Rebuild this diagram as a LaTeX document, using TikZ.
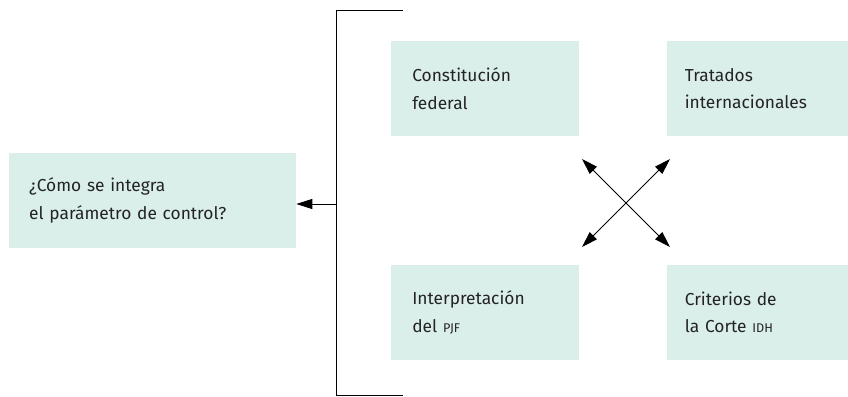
\documentclass[tikz,border=0pt]{standalone}
\usepackage{fontspec}
\setmainfont{Fira Sans}
\usetikzlibrary{arrows.meta,positioning,calc}
\definecolor{boxfill}{RGB}{218,238,234}
\definecolor{boxtext}{RGB}{35,35,35}

\begin{document}
\begin{tikzpicture} [x=0.75pt,y=-0.75pt,{caja/.style={rectangle,fill=boxfill,text=boxtext,inner sep=0pt,align=left,font=\fontsize{13}{20.5}\selectfont,minimum height=71.25pt}},{caja2/.style={caja,minimum width=141pt,text width=109pt}},{linea/.style={color=black,line width=0.75pt}},{flecha/.style={linea,-{Triangle[length=12pt,width=7.5pt]}}}]
	\useasboundingbox (0,0) rectangle (848,396);
	%%main question
	\node [caja,minimum width=215.25pt,text width=185pt] (pregunta) at (152.5,200.5) {¿Cómo se integra\\el parámetro de control?};

	%%sources
	\node [caja2] (constitucion) at (485,88.5) {Constitución\\federal};
	\node [caja2,minimum width=135.75pt] (tratados) at (757.5,88.5) {Tratados\\internacionales};
	\node [caja2] (pjf) at (485,312.5) {Interpretación\\del {\fontsize{9.5}{10}\selectfont PJF}};
	\node [caja2,minimum width=135.75pt] (corte) at (757.5,312.5) {Criterios de\\la Corte {\fontsize{9.5}{10}\selectfont IDH}};

	%%bracket
	\coordinate (arriba) at (336,10);
	\coordinate (abajo) at (336,395);
	\coordinate (medio) at (336,204);
	\draw [linea] ($(arriba)+(67,0)$) -- (arriba) -- (abajo) -- ($(abajo)+(67,0)$);
	\draw [flecha] (medio) -- (pregunta.east |- medio);

	%%cross
	\coordinate (c1) at (582,159);
	\coordinate (c2) at (670,159);
	\coordinate (c3) at (582,247);
	\coordinate (c4) at (670,247);
	\draw [linea,{Triangle[length=12pt,width=7.5pt]}-{Triangle[length=12pt,width=7.5pt]}] (c1) -- (c4);
	\draw [linea,{Triangle[length=12pt,width=7.5pt]}-{Triangle[length=12pt,width=7.5pt]}] (c2) -- (c3);
\end{tikzpicture}
\end{document}
